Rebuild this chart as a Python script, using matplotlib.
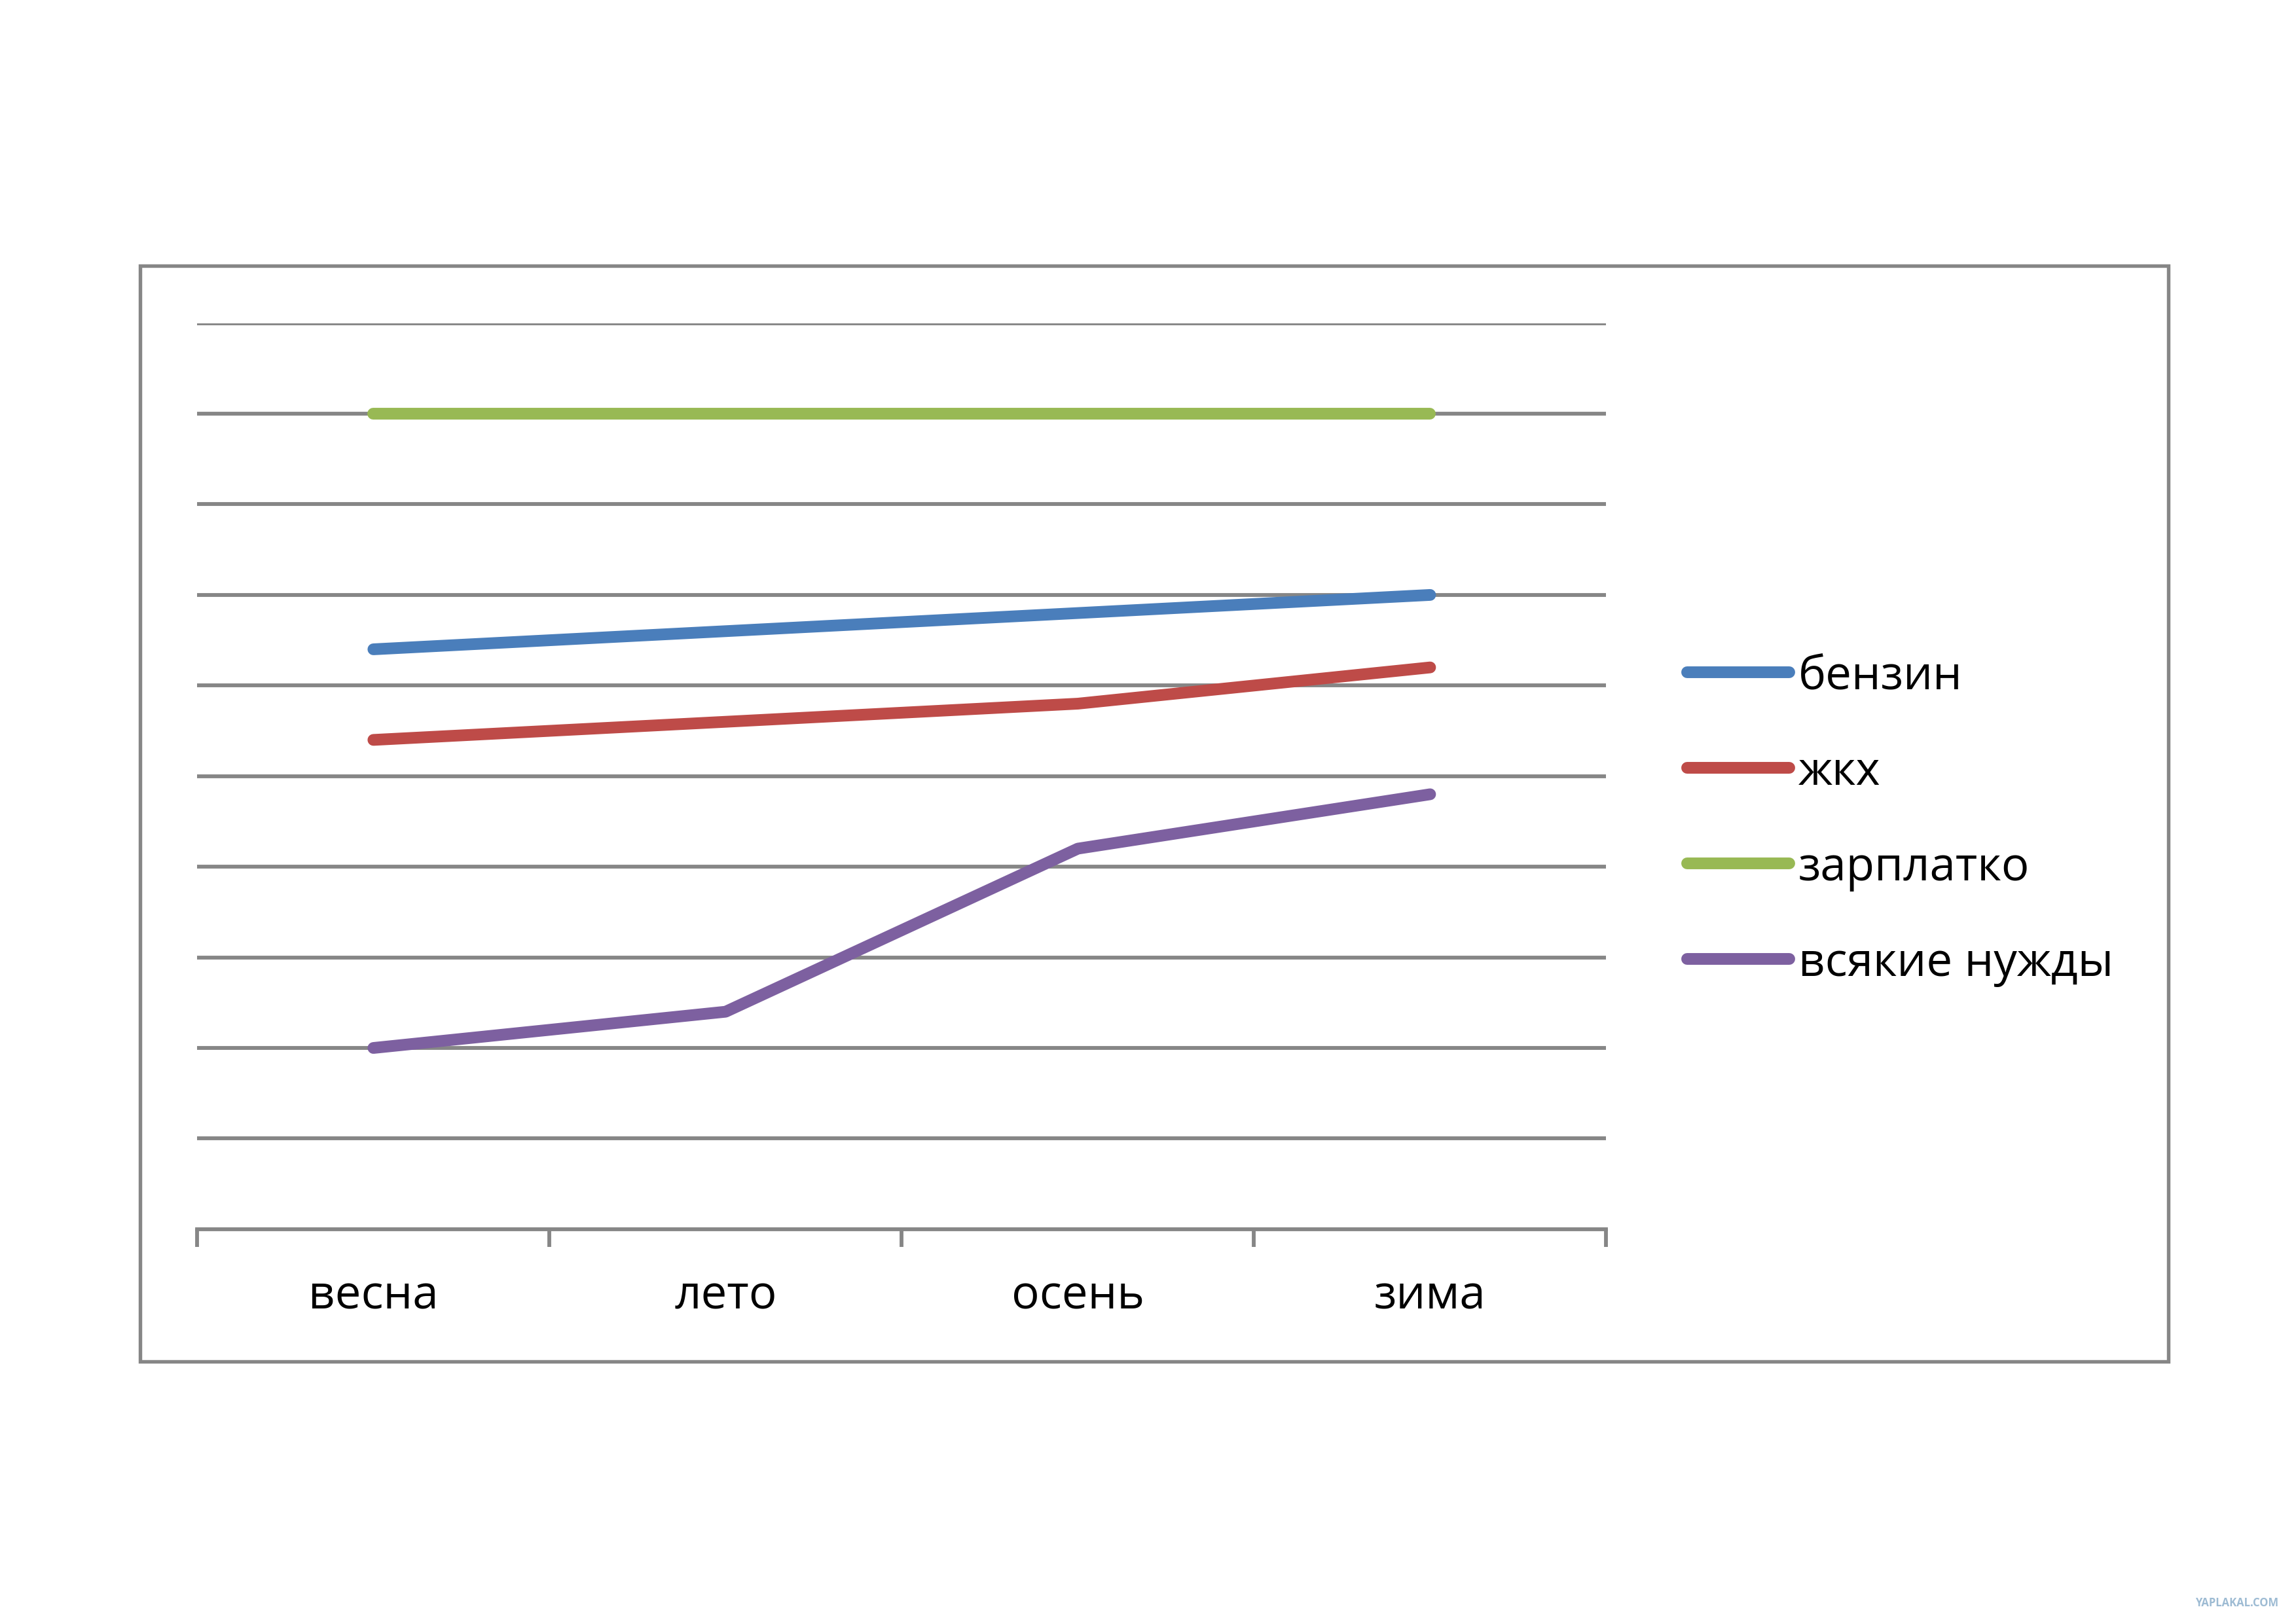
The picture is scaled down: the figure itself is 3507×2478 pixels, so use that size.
import matplotlib
matplotlib.use('Agg')
import matplotlib.pyplot as plt
from matplotlib.patches import Rectangle

plt.rcParams['font.family'] = ['Open Sans', 'DejaVu Sans']

# data (y axis has no labels, 0..10 grid units)
seasons = ['весна', 'лето', 'осень', 'зима']
benzin = [6.4, 6.6, 6.8, 7.0]
zhkh = [5.4, 5.6, 5.8, 6.2]
zarplata = [9.0, 9.0, 9.0, 9.0]
nuzhdy = [2.0, 2.4, 4.2, 4.8]

series_names = ['бензин', 'жкх', 'зарплатко', 'всякие нужды']
series_colors = ['#4A7EBB', '#BE4B48', '#98B954', '#7D60A0']
grid_color = '#868686'

fig = plt.figure(figsize=(11.693, 8.263), dpi=300)
fig.patch.set_facecolor('white')

# outer chart frame
fig.patches.append(Rectangle((0.0609, 0.1605), 0.8833, 0.6754,
                             transform=fig.transFigure, fill=False,
                             edgecolor=grid_color, linewidth=1.3))

ax = fig.add_axes([0.0859, 0.2421, 0.6135, 0.5584])

x = range(len(seasons))
for vals, name, col in zip([benzin, zhkh, zarplata, nuzhdy], series_names, series_colors):
    ax.plot(x, vals, color=col, linewidth=4.3, solid_capstyle='round',
            solid_joinstyle='round', label=name, zorder=3)

ax.set_xlim(-0.5, len(seasons) - 0.5)
ax.set_ylim(0, 10)
ax.set_yticks(range(1, 11))
ax.yaxis.grid(True, color=grid_color, linewidth=1.4)
ax.tick_params(axis='y', left=False, labelleft=False)

# tick marks between categories, labels at category centres
ax.set_xticks([i - 0.5 for i in range(len(seasons) + 1)])
ax.set_xticklabels([])
ax.tick_params(axis='x', which='major', direction='out', length=6.5,
               width=1.4, color=grid_color)
ax.set_xticks(list(x), minor=True)
ax.set_xticklabels(seasons, minor=True, fontsize=17)
ax.tick_params(axis='x', which='minor', length=0, pad=16)

for s in ['left', 'top', 'right']:
    ax.spines[s].set_visible(False)
ax.spines['bottom'].set_color(grid_color)
ax.spines['bottom'].set_linewidth(1.4)
ax.set_axisbelow(True)

leg = ax.legend(loc='center left', bbox_to_anchor=(0.7346, 0.4945),
                bbox_transform=fig.transFigure, frameon=False, fontsize=17,
                handlelength=2.2, handletextpad=0.2, labelspacing=1.05,
                borderpad=0, borderaxespad=0)

fig.text(0.992, 0.0121, 'YAPLAKAL.COM', ha='right', va='center', fontsize=4,
         fontweight='bold', color='#9DBBD3')

fig.savefig('out.png', dpi=300)
